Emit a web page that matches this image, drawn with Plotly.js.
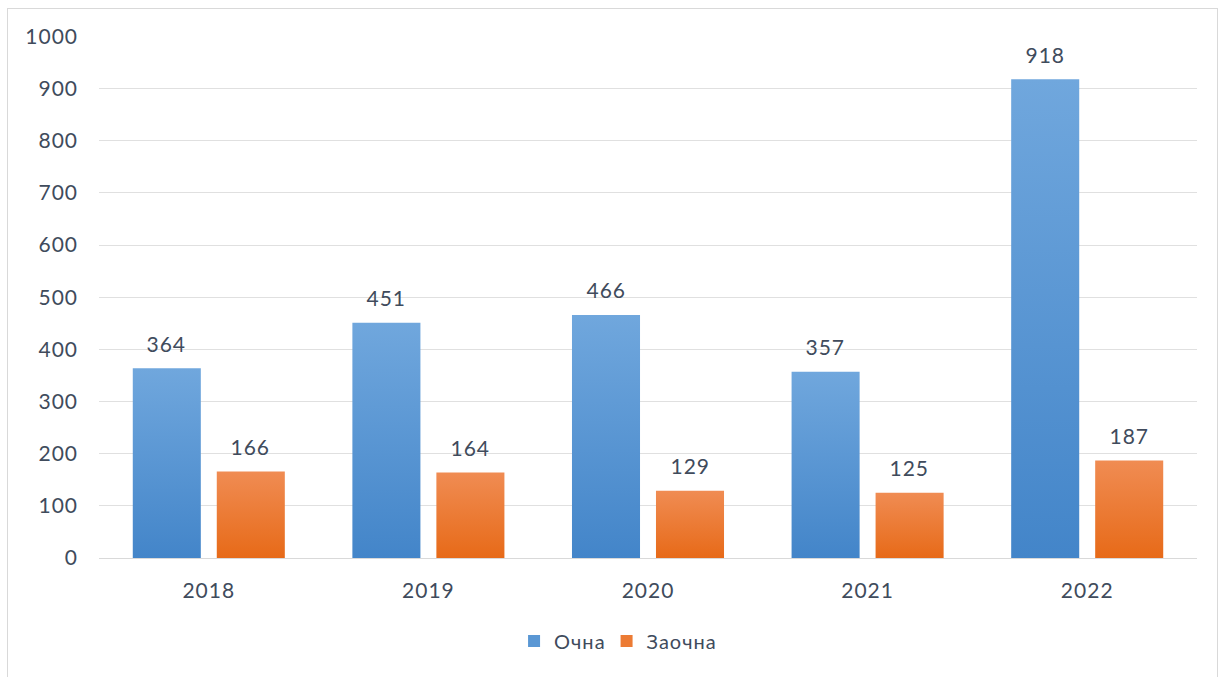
<!DOCTYPE html>
<html>
<head>
<meta charset="utf-8">
<script src="https://cdn.plot.ly/plotly-3.0.1.min.js"></script>
<style>
html, body { margin: 0; padding: 0; background: #ffffff; }
#frame { position: absolute; left: 7px; top: 8px; width: 1211px; height: 680px; border: 1px solid #d9d9d9; box-sizing: border-box; }
#chart { position: absolute; left: 0; top: 0; width: 1227px; height: 677px; }
#chart text { letter-spacing: 1px; }
</style>
</head>
<body>
<div id="frame"></div>
<div id="chart"></div>
<script>
const years = ['2018', '2019', '2020', '2021', '2022'];
const ochna = [364, 451, 466, 357, 918];
const zaochna = [166, 164, 129, 125, 187];
const seriesNames = ['Очна', 'Заочна'];
const yTicks = [0, 100, 200, 300, 400, 500, 600, 700, 800, 900, 1000];

const textColor = '#404b5c';
const fontFam = 'Lato, "Open Sans", sans-serif';

const traces = [
  { type: 'bar', name: seriesNames[0], x: years, y: ochna,
    marker: { color: '#5a97d4' }, hoverinfo: 'x+y' },
  { type: 'bar', name: seriesNames[1], x: years, y: zaochna,
    marker: { color: '#ec7b34' }, hoverinfo: 'x+y' }
];

const annotations = [];
years.forEach((yr, i) => {
  annotations.push({ x: i, y: ochna[i], xref: 'x', yref: 'y', text: String(ochna[i]),
    showarrow: false, xshift: -42, yshift: 25, yanchor: 'middle',
    font: { family: fontFam, size: 21, color: textColor } });
  annotations.push({ x: i, y: zaochna[i], xref: 'x', yref: 'y', text: String(zaochna[i]),
    showarrow: false, xshift: 42, yshift: 25, yanchor: 'middle',
    font: { family: fontFam, size: 21, color: textColor } });
});

const layout = {
  width: 1227, height: 677,
  margin: { l: 99, r: 30, t: 36, b: 119 },
  paper_bgcolor: 'rgba(0,0,0,0)',
  plot_bgcolor: 'rgba(0,0,0,0)',
  barmode: 'group',
  bargap: 0.235,
  bargroupgap: 0.19,
  font: { family: fontFam, size: 20, color: textColor },
  xaxis: {
    type: 'category',
    range: [-0.5, years.length - 0.5],
    autorange: false,
    showgrid: false, zeroline: false, showline: false, ticks: '',
    ticklabelstandoff: 18,
    tickfont: { family: fontFam, size: 21, color: textColor }
  },
  yaxis: {
    range: [0, 1001],
    autorange: false,
    tickvals: yTicks,
    ticktext: yTicks.map(String),
    showgrid: true, gridcolor: '#e0e0e0', gridwidth: 1,
    zeroline: true, zerolinecolor: '#d9d9d9', zerolinewidth: 1,
    showline: false, ticks: '',
    ticklabelstandoff: 20,
    tickfont: { family: fontFam, size: 21, color: textColor }
  },
  legend: {
    orientation: 'h', x: 0.47, xanchor: 'center', y: -0.159, yanchor: 'middle',
    font: { family: fontFam, size: 20, color: textColor },
    itemwidth: 30, traceorder: 'normal'
  },
  annotations: annotations,
  showlegend: true
};

Plotly.newPlot('chart', traces, layout, { displayModeBar: false, staticPlot: true }).then(function (gd) {
  const svgNS = 'http://www.w3.org/2000/svg';
  const svg = gd.querySelector('svg.main-svg');
  let defs = svg.querySelector('defs');
  if (!defs) { defs = document.createElementNS(svgNS, 'defs'); svg.insertBefore(defs, svg.firstChild); }
  const grads = [
    { id: 'gradBlue', top: '#70a7dd', bottom: '#4385c9' },
    { id: 'gradOrange', top: '#f08c53', bottom: '#e76a18' }
  ];
  grads.forEach(function (g) {
    const lg = document.createElementNS(svgNS, 'linearGradient');
    lg.setAttribute('id', g.id);
    lg.setAttribute('x1', '0'); lg.setAttribute('y1', '0');
    lg.setAttribute('x2', '0'); lg.setAttribute('y2', '1');
    const s1 = document.createElementNS(svgNS, 'stop');
    s1.setAttribute('offset', '0'); s1.setAttribute('stop-color', g.top);
    const s2 = document.createElementNS(svgNS, 'stop');
    s2.setAttribute('offset', '1'); s2.setAttribute('stop-color', g.bottom);
    lg.appendChild(s1); lg.appendChild(s2);
    defs.appendChild(lg);
  });
  const barTraces = gd.querySelectorAll('.barlayer .trace.bars');
  barTraces.forEach(function (tr, ti) {
    tr.querySelectorAll('path').forEach(function (p) {
      p.style.fill = 'url(#' + grads[ti].id + ')';
    });
  });
});
</script>
</body>
</html>
